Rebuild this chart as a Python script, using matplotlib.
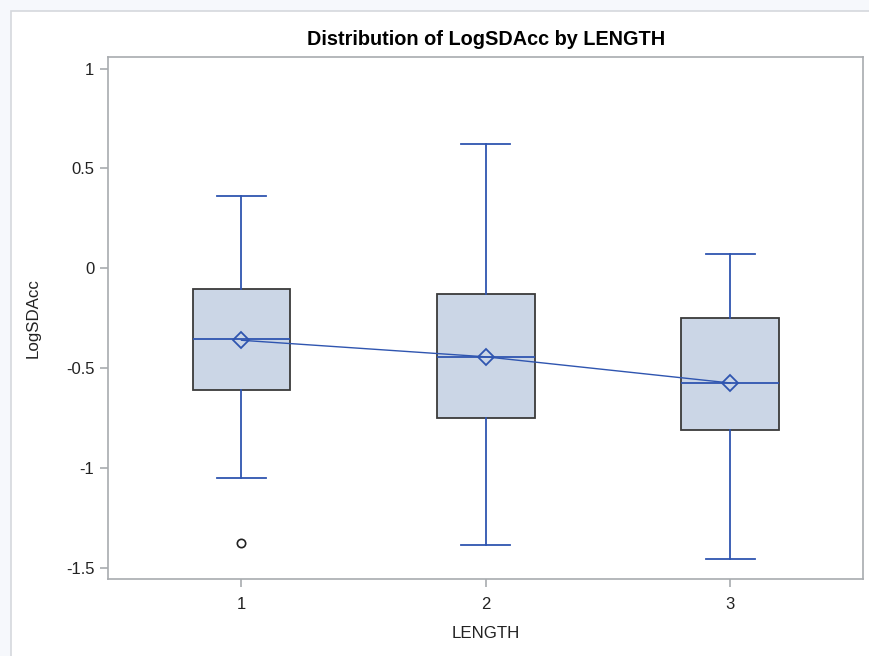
import matplotlib
matplotlib.use("Agg")
import matplotlib.pyplot as plt
from matplotlib.patches import Rectangle

# box statistics
groups = [1, 2, 3]
whislo = [-1.05, -1.389, -1.459]
q1 = [-0.610, -0.752, -0.812]
med = [-0.356, -0.444, -0.573]
q3 = [-0.104, -0.131, -0.248]
whishi = [0.364, 0.622, 0.073]
means = [-0.361, -0.444, -0.575]
fliers = [[-1.375], [], []]

yticks = [1, 0.5, 0, -0.5, -1, -1.5]
ytick_labels = ["1", "0.5", "0", "-0.5", "-1", "-1.5"]

LINE = "#2F55B0"
FILL = "#CBD6E6"
FRAME = "#A8ABAF"
TEXT = "#222222"

plt.rcParams["font.family"] = ["Liberation Sans", "DejaVu Sans"]

fig = plt.figure(figsize=(8.7, 6.56), dpi=100)
fig.patch.set_facecolor("#F6F8FC")
fig.add_artist(Rectangle((11 / 870, -0.1), 1.2, 1 - 11 / 656 + 0.1,
                         transform=fig.transFigure, facecolor="white",
                         edgecolor="#D5D8DD", linewidth=1.2, zorder=0))

ax = fig.add_axes([0.1245, 0.1169, 0.9923 - 0.1245, 0.9131 - 0.1169])

stats = []
for i in range(len(groups)):
    stats.append(dict(med=med[i], q1=q1[i], q3=q3[i], whislo=whislo[i],
                      whishi=whishi[i], mean=means[i], fliers=fliers[i]))

ax.bxp(stats, positions=groups, widths=0.4, patch_artist=True,
       showmeans=False, showcaps=True,
       boxprops=dict(facecolor=FILL, edgecolor="#3A3A3A", linewidth=1.3),
       medianprops=dict(color=LINE, linewidth=1.3),
       whiskerprops=dict(color=LINE, linewidth=1.3),
       capprops=dict(color=LINE, linewidth=1.3),
       capwidths=0.2,
       flierprops=dict(marker="o", markerfacecolor="none",
                       markeredgecolor="#222222", markersize=6,
                       markeredgewidth=1.2))

# line through the means + diamond markers
ax.plot(groups, means, color=LINE, linewidth=1.0, zorder=4)
ax.plot(groups, means, linestyle="none", marker="D", markersize=8,
        markerfacecolor="none", markeredgecolor=LINE, markeredgewidth=1.3,
        zorder=5)

ax.set_xlim(0.455, 3.545)
ax.set_ylim(-1.559, 1.0586)
ax.set_yticks(yticks)
ax.set_yticklabels(ytick_labels)
ax.set_xticks(groups)
ax.set_xticklabels([str(g) for g in groups])

for s in ax.spines.values():
    s.set_color(FRAME)
    s.set_linewidth(1.2)
ax.tick_params(axis="both", colors=FRAME, labelcolor=TEXT,
               labelsize=12, length=5.5, width=1.2)
ax.tick_params(axis="x", pad=7)
ax.tick_params(axis="y", pad=4.5)

ax.set_title("Distribution of LogSDAcc by LENGTH", fontsize=14.3,
             fontweight="bold", pad=9)
ax.set_xlabel("LENGTH", fontsize=12.2, labelpad=10.5, color=TEXT)
ax.set_ylabel("LogSDAcc", fontsize=12.2, labelpad=18, color=TEXT)

fig.savefig("out.png", dpi=100, facecolor=fig.get_facecolor())
